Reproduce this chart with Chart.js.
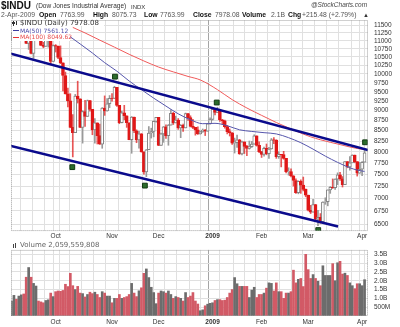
<!DOCTYPE html>
<html>
<head>
<meta charset="utf-8">
<script src="https://cdn.jsdelivr.net/npm/chart.js@4.4.1/dist/chart.umd.min.js"></script>
<style>
  body { margin: 0; background: #fff; width: 400px; height: 327px; overflow: hidden; position: relative; }
  canvas { position: absolute; left: 0; }
  #priceCanvas { top: 0; }
  #volCanvas { top: 240px; }
  .t { position: absolute; white-space: nowrap; line-height: 1; font-family: "Liberation Sans", Arial, sans-serif; color: #222; }
  .h2 { top: 11.6px; font-size: 6.8px; color: #555; }
  .h2 b { color: #111; }
  .box { position: absolute; background: #fff; }
  .lg { position: absolute; white-space: nowrap; line-height: 1; font-family: "DejaVu Sans", sans-serif; }
</style>
</head>
<body>
<canvas id="priceCanvas" width="400" height="241"></canvas>
<canvas id="volCanvas" width="400" height="87"></canvas>

<!-- header -->
<div class="t" style="left:1px;top:1.1px;font-size:10px;font-weight:bold;color:#111">$INDU</div>
<div class="t" style="left:36px;top:3.3px;font-size:6.5px;color:#333">(Dow Jones Industrial Average)</div>
<div class="t" style="left:131px;top:3.6px;font-size:6px;color:#333">INDX</div>
<div class="t" style="left:311px;top:2px;font-size:6.5px;font-style:italic;color:#444">@StockCharts.com</div>
<div class="t h2" style="left:1px">2-Apr-2009</div>
<div class="t h2" style="left:39px"><b>Open</b></div>
<div class="t h2" style="left:60px">7763.99</div>
<div class="t h2" style="left:93px"><b>High</b></div>
<div class="t h2" style="left:112px">8075.73</div>
<div class="t h2" style="left:144px"><b>Low</b></div>
<div class="t h2" style="left:160px">7763.99</div>
<div class="t h2" style="left:193px"><b>Close</b></div>
<div class="t h2" style="left:215px">7978.08</div>
<div class="t h2" style="left:242px"><b>Volume</b></div>
<div class="t h2" style="left:271px">2.1B</div>
<div class="t h2" style="left:288px"><b>Chg</b></div>
<div class="t h2" style="left:302px">+215.48 (+2.79%)</div>
<div class="t h2" style="left:363px;font-size:6px;top:12px;color:#333">&#9650;</div>

<!-- price legend -->
<div class="box" style="left:12px;top:21px;width:92px;height:5px"></div>
<div class="box" style="left:12px;top:21px;width:58px;height:20px"></div>
<div class="box" style="left:13px;top:21px;width:1px;height:5px;background:#333"></div>
<div class="box" style="left:12px;top:22px;width:3px;height:2px;background:#333"></div>
<div class="box" style="left:16px;top:21px;width:1px;height:4px;background:#333"></div>
<div class="lg" style="left:20px;top:19.6px;font-size:7px;color:#333">$INDU (Daily) 7978.08</div>
<div class="box" style="left:13px;top:30px;width:6px;height:1.3px;background:#3c3ca0"></div>
<div class="lg" style="left:20px;top:27.8px;font-size:6px;color:#4a4aa8">MA(50) 7561.12</div>
<div class="box" style="left:13px;top:36.6px;width:6px;height:1.3px;background:#e83030"></div>
<div class="lg" style="left:20px;top:34.4px;font-size:6px;color:#e84a4a">MA(100) 8049.62</div>

<!-- volume legend -->
<div class="box" style="left:12px;top:242px;width:92px;height:7px"></div>
<div class="box" style="left:13px;top:244px;width:1px;height:4px;background:#444"></div>
<div class="box" style="left:15px;top:243px;width:1px;height:5px;background:#444"></div>
<div class="lg" style="left:20px;top:242.4px;font-size:7px;color:#666">Volume 2,059,559,808</div>

<script>
// trading-day index 0 = 5-Sep-2008 ... 144 = 2-Apr-2009
const monthDays = [18, 41, 60, 82, 102, 121, 143];
const monthNames = ['Oct', 'Nov', 'Dec', '2009', 'Feb', 'Mar', 'Apr'];
const gridDays = [1, 6, 11, 16, 18, 21, 26, 31, 36, 41, 46, 51, 56, 60, 65, 70, 75, 79, 82, 88, 93, 97, 102, 107, 112, 116, 121, 126, 131, 136, 141, 143];
const yearDay = 82;

const priceTicks = [6500, 6750, 7000, 7250, 7500, 7750, 8000, 8250, 8500, 8750, 9000, 9250, 9500, 9750, 10000, 10250, 10500, 10750, 11000, 11250, 11500];
const volTicks = [0.5, 1, 1.5, 2, 2.5, 3, 3.5];
const volLabels = ['500M', '1.0B', '1.5B', '2.0B', '2.5B', '3.0B', '3.5B'];

const openP = [
  11188, 11221, 11511, 11231, 11269, 11434, 11422, 10918, 11059, 10610, 11020, 11388, 11016, 10854, 10825, 11022, 11143, 10365,
  10851, 10831, 10483, 10325, 9956, 9447, 9258, 8579, 8451, 9388, 9311, 8578, 8979, 8852, 9265, 9034, 8519, 8691, 8379, 8176, 9065, 8991, 9181,
  9325, 9320, 9625, 9139, 8696, 8944, 8871, 8694, 8283, 8835, 8497, 8274, 8425, 7997, 7552, 8046, 8443, 8479, 8727,
  8829, 8149, 8419, 8592, 8376, 8635, 8934, 8691, 8761, 8565, 8630, 8565, 8924, 8824, 8605, 8579, 8520, 8419, 8468, 8516, 8484, 8668,
  8776, 9035, 8953, 9015, 8770, 8742, 8599, 8474, 8449, 8200, 8212, 8281, 7949, 8228, 8123, 8078, 8116, 8175, 8375, 8149,
  8001, 7937, 8078, 7957, 8063, 8281, 8271, 7889, 7940, 7933, 7850, 7553, 7556, 7466, 7366, 7115, 7351, 7271, 7182,
  7063, 6763, 6726, 6876, 6594, 6627, 6547, 6926, 6930, 7170, 7224, 7217, 7396, 7487, 7401, 7278, 7776, 7660, 7750, 7925, 7776, 7522,
  7609, 7764
];
const highP = [
  11250, 11580, 11530, 11350, 11450, 11460, 11422, 11120, 11059, 11030, 11480, 11390, 11080, 10950, 11100, 11150, 11143, 10870,
  10880, 10830, 10840, 10325, 10055, 9600, 9450, 8900, 9430, 9795, 9311, 9000, 9270, 9280, 9270, 9034, 8800, 8691, 8660, 9080, 9390, 9320, 9400,
  9450, 9654, 9625, 9139, 8990, 9140, 8871, 8694, 8850, 8835, 8520, 8480, 8430, 8000, 8050, 8600, 8560, 8740, 8830,
  8829, 8440, 8600, 8640, 8650, 9020, 8960, 8860, 8800, 8650, 8660, 8940, 8930, 8870, 8780, 8580, 8590, 8490, 8540, 8530, 8670, 8820,
  9050, 9040, 9090, 9015, 8780, 8760, 8630, 8540, 8450, 8320, 8390, 8290, 8250, 8230, 8150, 8250, 8240, 8400, 8375, 8230,
  8005, 8110, 8180, 8100, 8310, 8330, 8280, 8000, 7940, 8010, 7850, 7640, 7620, 7470, 7400, 7360, 7380, 7440, 7190,
  7063, 6860, 6980, 6880, 6760, 6700, 6927, 7010, 7170, 7240, 7400, 7400, 7530, 7540, 7450, 7780, 7780, 7890, 7930, 7925, 7776, 7760,
  7780, 8076
];
const lowP = [
  11000, 11221, 11220, 11150, 11040, 11260, 10910, 10730, 10590, 10460, 11020, 11010, 10850, 10780, 10825, 10800, 10266, 10365,
  10650, 10450, 10300, 9525, 9440, 9100, 8570, 7882, 8451, 9200, 8570, 8200, 8600, 8850, 8990, 8400, 8200, 8180, 8170, 8080, 8880, 8990, 9080,
  9250, 9320, 9110, 8670, 8690, 8770, 8580, 8280, 7965, 8450, 8210, 8080, 7990, 7500, 7449, 8046, 8320, 8350, 8710,
  8140, 8149, 8220, 8310, 8150, 8635, 8650, 8690, 8530, 8330, 8480, 8565, 8750, 8590, 8550, 8390, 8410, 8415, 8460, 8380, 8484, 8660,
  8760, 8890, 8950, 8730, 8650, 8560, 8420, 8370, 8170, 7970, 8100, 7940, 7930, 7960, 7910, 8060, 8100, 8175, 8130, 7980,
  7870, 7900, 7930, 7850, 8060, 8190, 7850, 7850, 7660, 7830, 7530, 7480, 7440, 7250, 7100, 7090, 7100, 7150, 7030,
  6750, 6700, 6726, 6580, 6470, 6517, 6547, 6880, 6850, 7100, 7200, 7180, 7280, 7370, 7230, 7278, 7640, 7590, 7750, 7750, 7460, 7520,
  7470, 7764
];
const closeP = [
  11221, 11511, 11231, 11269, 11434, 11422, 10918, 11059, 10610, 11020, 11388, 11016, 10854, 10825, 11022, 11143, 10365, 10851,
  10831, 10483, 10325, 9956, 9447, 9258, 8579, 8451, 9388, 9311, 8578, 8979, 8852, 9265, 9034, 8519, 8691, 8379, 8176, 9065, 8991, 9181, 9325,
  9320, 9625, 9139, 8696, 8944, 8871, 8694, 8283, 8835, 8497, 8274, 8425, 7997, 7552, 8046, 8443, 8479, 8727, 8829,
  8149, 8419, 8592, 8376, 8635, 8934, 8691, 8761, 8565, 8630, 8565, 8924, 8824, 8605, 8579, 8520, 8419, 8468, 8516, 8484, 8668, 8776,
  9035, 8953, 9015, 8770, 8742, 8599, 8474, 8449, 8200, 8212, 8281, 7949, 8228, 8123, 8078, 8116, 8175, 8375, 8149, 8001,
  7937, 8078, 7957, 8063, 8281, 8271, 7889, 7940, 7933, 7850, 7553, 7556, 7466, 7366, 7115, 7351, 7271, 7182, 7063,
  6763, 6726, 6876, 6594, 6627, 6547, 6926, 6930, 7170, 7224, 7217, 7396, 7487, 7401, 7278, 7776, 7660, 7750, 7925, 7776, 7522, 7609,
  7762, 7978
];
// volume in billions of shares
const volume = [
  0.85, 1.17, 0.95, 1.13, 1.2, 1.25, 2.2, 2.75, 2.2, 1.85, 1.7, 0.85, 0.8, 0.75, 0.88, 0.92, 1.3, 1.1,
  1.38, 1.42, 1.4, 1.45, 1.8, 1.67, 2.42, 1.72, 1.5, 1.68, 1.3, 1.27, 1.08, 1.22, 1.35, 1.27, 1.35, 1.22, 1.05, 1.38, 1.3, 1.13, 1.13,
  0.75, 1.0, 1.0, 1.22, 1.0, 1.05, 1.1, 1.22, 1.85, 1.3, 1.1, 1.43, 1.6, 2.42, 2.67, 2.18, 1.63, 1.33, 0.7,
  1.3, 1.42, 1.38, 1.3, 1.42, 1.22, 1.0, 1.1, 1.05, 1.0, 0.85, 1.33, 1.05, 1.13, 1.33, 0.85, 0.68, 0.3, 0.35, 0.58, 0.67, 0.72,
  0.75, 0.88, 0.93, 0.93, 0.88, 0.9, 1.05, 1.3, 1.5, 2.18, 1.83, 1.68, 1.68, 1.68, 1.68, 1.05, 1.47, 1.63, 1.05, 1.22,
  1.22, 1.3, 1.58, 1.88, 1.85, 1.42, 1.88, 1.38, 1.38, 1.0, 1.3, 1.3, 1.38, 2.6, 1.88, 2.08, 2.13, 1.67, 3.5,
  2.63, 2.13, 2.35, 2.13, 1.97, 1.72, 2.85, 2.3, 2.3, 2.3, 2.97, 2.0, 3.02, 3.1, 2.38, 2.43, 2.3, 1.88, 1.72, 1.55, 1.83, 1.83,
  1.72, 2.06
];

const ma50X = [23, 28, 33, 38, 43, 48, 53, 58, 63, 68, 73, 78, 83, 88, 93, 98, 103, 108, 113, 118, 123, 128, 133, 138, 141, 144];
const ma50Y = [11180, 10900, 10620, 10330, 10080, 9800, 9560, 9330, 9120, 8920, 8770, 8670, 8680, 8620, 8520, 8480, 8450, 8420, 8330, 8210, 8060, 7900, 7760, 7640, 7590, 7561];
const ma100X = [25, 30, 36, 42, 48, 54, 60, 66, 72, 77, 84, 90, 96, 102, 108, 114, 118, 122, 126, 130, 134, 138, 141, 144];
const ma100Y = [11430, 11250, 11020, 10800, 10580, 10380, 10200, 10060, 9930, 9830, 9560, 9290, 9070, 8880, 8700, 8540, 8440, 8350, 8280, 8220, 8166, 8110, 8075, 8050];

// hand-drawn channel lines and markers
const upperX = [-0.2, 145.4], upperY = [10601, 8039];
const lowerX = [-0.2, 133.2], lowerY = [8131, 6457];
const markX = [24.8, 54.4, 42.2, 83.7, 125.1, 144.2];
const markY = [7654, 7259, 9923, 9213, 6390, 8220];

const xMin = -0.2, xMax = 145.4;
const RED = '#e01818', GRAY = '#858585';

function prevClose(i) { return i > 0 ? closeP[i - 1] : openP[i]; }
function dayColor(i) { return closeP[i] < prevClose(i) ? RED : GRAY; }
function pts(xs, ys) { return xs.map((x, k) => ({ x: x, y: ys[k] })); }

const frame = {
  id: 'frame',
  afterDraw(chart) {
    const { ctx, chartArea: a } = chart;
    ctx.save();
    ctx.strokeStyle = '#a0a0a0';
    ctx.lineWidth = 1;
    ctx.setLineDash([1, 1]);
    ctx.strokeRect(a.left + 0.5, a.top + 0.5, a.right - a.left - 1, a.bottom - a.top - 1);
    ctx.restore();
  }
};

function xAxis(h, pad) {
  return {
    type: 'linear', min: xMin, max: xMax, offset: false,
    afterBuildTicks: s => { s.ticks = gridDays.map(v => ({ value: v })); },
    afterFit: s => { s.height = h; },
    grid: { color: c => (c.tick && c.tick.value === yearDay ? '#a5a5a5' : '#e0e0e0'), drawTicks: false },
    border: { display: false },
    ticks: {
      autoSkip: false, maxRotation: 0, padding: pad, color: '#333',
      font: c => ({ family: 'Liberation Sans', size: 6.5, weight: c.tick && c.tick.value === yearDay ? 'bold' : 'normal' }),
      callback: v => { const k = monthDays.indexOf(v); return k < 0 ? '' : monthNames[k]; }
    }
  };
}

function yAxis(extra) {
  return Object.assign({
    position: 'right',
    afterFit: s => { s.width = 32; },
    grid: { color: '#e0e0e0', drawTicks: false },
    border: { display: false },
    ticks: { autoSkip: false, padding: 6, color: '#333', font: { family: 'Liberation Sans', size: 6.5 } }
  }, extra);
}

const priceY = yAxis({ type: 'logarithmic', min: 6371, max: 11675 });
priceY.afterBuildTicks = s => { s.ticks = priceTicks.map(v => ({ value: v })); };
priceY.ticks.callback = v => String(v);

new Chart(document.getElementById('priceCanvas'), {
  type: 'bar',
  data: {
    datasets: [
      {
        type: 'bar', label: 'range', order: 6, grouped: false, barThickness: 1,
        data: closeP.map((c, i) => ({ x: i, y: [lowP[i], highP[i]] })),
        backgroundColor: c => (dayColor(c.dataIndex) === RED ? 'rgba(224,30,30,0.75)' : '#9a9a9a')
      },
      {
        type: 'bar', label: '$INDU', order: 5, grouped: false, barThickness: 3,
        borderWidth: 1, borderSkipped: false,
        data: closeP.map((c, i) => ({ x: i, y: [openP[i], c] })),
        backgroundColor: c => (closeP[c.dataIndex] >= openP[c.dataIndex] ? '#ffffff' : dayColor(c.dataIndex)),
        borderColor: c => dayColor(c.dataIndex)
      },
      {
        type: 'line', label: 'MA(100)', order: 4, data: pts(ma100X, ma100Y),
        borderColor: '#f05a5a', borderWidth: 1, pointRadius: 0, cubicInterpolationMode: 'monotone'
      },
      {
        type: 'line', label: 'MA(50)', order: 3, data: pts(ma50X, ma50Y),
        borderColor: '#5656ac', borderWidth: 1, pointRadius: 0, cubicInterpolationMode: 'monotone'
      },
      {
        type: 'line', label: 'upper', order: 2, data: pts(upperX, upperY),
        borderColor: '#0a0a8c', borderWidth: 2.5, pointRadius: 0
      },
      {
        type: 'line', label: 'lower', order: 2, data: pts(lowerX, lowerY),
        borderColor: '#0a0a8c', borderWidth: 2.5, pointRadius: 0
      },
      {
        type: 'line', label: 'marks', order: 1, data: pts(markX, markY), showLine: false,
        pointStyle: 'rect', pointRadius: 3.4, backgroundColor: '#2b6b2b', borderColor: '#123a12', borderWidth: 1
      }
    ]
  },
  options: {
    responsive: false, animation: false,
    layout: { padding: { left: 11, top: 20, right: 0, bottom: 0 } },
    plugins: { legend: { display: false }, tooltip: { enabled: false } },
    scales: { x: xAxis(9, 1), y: priceY }
  },
  plugins: [frame]
});

const volY = yAxis({ type: 'linear', min: 0, max: 3.75 });
volY.afterBuildTicks = s => { s.ticks = volTicks.map(v => ({ value: v })); };
volY.ticks.callback = v => volLabels[volTicks.indexOf(v)];

new Chart(document.getElementById('volCanvas'), {
  type: 'bar',
  data: {
    datasets: [{
      label: 'Volume', grouped: false, barThickness: 2,
      data: volume.map((v, i) => ({ x: i, y: v })),
      backgroundColor: c => (dayColor(c.dataIndex) === RED ? '#d25a66' : '#6c6c6c'),
      borderWidth: 0
    }]
  },
  options: {
    responsive: false, animation: false,
    layout: { padding: { left: 11, top: 1, right: 0, bottom: 0 } },
    plugins: { legend: { display: false }, tooltip: { enabled: false } },
    scales: { x: xAxis(11, 2), y: volY }
  },
  plugins: [frame]
});
</script>
</body>
</html>
